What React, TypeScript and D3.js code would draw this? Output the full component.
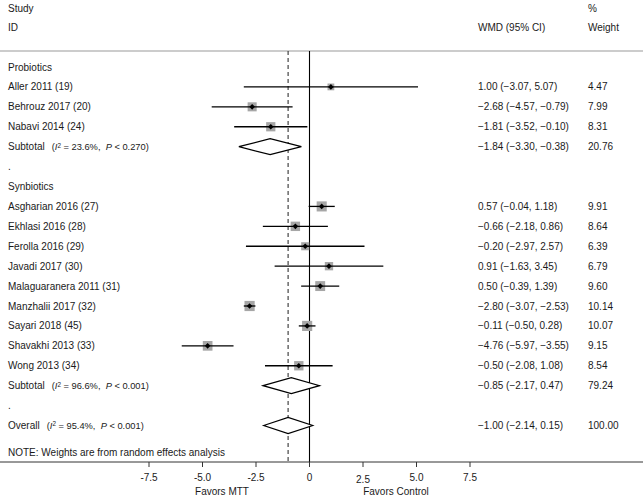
import React from "react";
import * as d3 from "d3";

const studies = ["Aller 2011 (19)", "Behrouz 2017 (20)", "Nabavi 2014 (24)", "Asgharian 2016 (27)", "Ekhlasi 2016 (28)", "Ferolla 2016 (29)", "Javadi 2017 (30)", "Malaguaranera 2011 (31)", "Manzhalii 2017 (32)", "Sayari 2018 (45)", "Shavakhi 2013 (33)", "Wong 2013 (34)"];
const groups = ["Probiotics", "Probiotics", "Probiotics", "Synbiotics", "Synbiotics", "Synbiotics", "Synbiotics", "Synbiotics", "Synbiotics", "Synbiotics", "Synbiotics", "Synbiotics"];
const est = [1.0, -2.68, -1.81, 0.57, -0.66, -0.2, 0.91, 0.5, -2.8, -0.11, -4.76, -0.5];
const lo = [-3.07, -4.57, -3.52, -0.04, -2.18, -2.97, -1.63, -0.39, -3.07, -0.5, -5.97, -2.08];
const hi = [5.07, -0.79, -0.1, 1.18, 0.86, 2.57, 3.45, 1.39, -2.53, 0.28, -3.55, 1.08];
const weights = ["4.47", "7.99", "8.31", "9.91", "8.64", "6.39", "6.79", "9.60", "10.14", "10.07", "9.15", "8.54"];
const ciText = ["1.00 (\u22123.07, 5.07)", "\u22122.68 (\u22124.57, \u22120.79)", "\u22121.81 (\u22123.52, \u22120.10)", "0.57 (\u22120.04, 1.18)", "\u22120.66 (\u22122.18, 0.86)", "\u22120.20 (\u22122.97, 2.57)", "0.91 (\u22121.63, 3.45)", "0.50 (\u22120.39, 1.39)", "\u22122.80 (\u22123.07, \u22122.53)", "\u22120.11 (\u22120.50, 0.28)", "\u22124.76 (\u22125.97, \u22123.55)", "\u22120.50 (\u22122.08, 1.08)"];

const pooledNames = ["Subtotal", "Subtotal", "Overall"];
const pooledEst = [-1.84, -0.85, -1.0];
const pooledLo = [-3.3, -2.17, -2.14];
const pooledHi = [-0.38, 0.47, 0.15];
const pooledI2 = ["23.6%", "96.6%", "95.4%"];
const pooledP = ["0.270", "0.001", "0.001"];
const pooledCiText = ["\u22121.84 (\u22123.30,\u00a0\u22120.38)", "\u22120.85 (\u22122.17, 0.47)", "\u22121.00 (\u22122.14, 0.15)"];
const pooledWeight = ["20.76", "79.24", "100.00"];

const ticks = [-7.5, -5.0, -2.5, 0, 2.5, 5.0, 7.5];
const tickLabels = ["-7.5", "-5.0", "-2.5", "0", "2.5", "5.0", "7.5"];

type Row =
  | { kind: "header"; label: string }
  | { kind: "study"; i: number }
  | { kind: "pooled"; i: number }
  | { kind: "blank" };

function buildRows(): Row[] {
  const rows: Row[] = [];
  const gs = ["Probiotics", "Synbiotics"];
  gs.forEach((g, gi) => {
    rows.push({ kind: "header", label: g });
    studies.forEach((_, i) => {
      if (groups[i] === g) rows.push({ kind: "study", i });
    });
    rows.push({ kind: "pooled", i: gi });
    rows.push({ kind: "blank" });
  });
  rows.push({ kind: "pooled", i: 2 });
  return rows;
}

export default function App() {
  const W = 643;
  const H = 498;
  const rows = buildRows();
  const x = d3.scaleLinear().domain([-7.5, 7.5]).range([149, 470]);
  const y = d3.scaleLinear().domain([0, rows.length - 1]).range([67, 425.5]);
  const font = "'Liberation Sans', Arial, Helvetica, sans-serif";
  const fs = 10;
  const afs = 9.3;
  const txt = "#1a1a1a";
  const colLeft = 8;
  const colCI = 478;
  const colW = 588;
  const topLine = 51;
  const axisY = 462;
  const boxK = 3.2;
  const diamondH = 8;

  return (
    <svg
      width={W}
      height={H}
      style={{ position: "absolute", left: 0, top: 0, background: "#fff" }}
      fontFamily={font}
      fontSize={fs}
    >
      <rect x={0} y={0} width={W} height={H} fill="#fff" />
      <text x={colLeft} y={8} dy="0.35em" fill={txt}>Study</text>
      <text x={colLeft} y={27} dy="0.35em" fill={txt}>ID</text>
      <text x={colW} y={8} dy="0.35em" fill={txt}>%</text>
      <text x={colCI} y={27} dy="0.35em" fill={txt}>WMD (95% CI)</text>
      <text x={colW} y={27} dy="0.35em" fill={txt}>Weight</text>
      <line x1={0} x2={W} y1={topLine} y2={topLine} stroke="#999" strokeWidth={1} />

      <line x1={x(0)} x2={x(0)} y1={topLine} y2={axisY} stroke="#000" strokeWidth={1.1} />
      <line x1={x(pooledEst[2])} x2={x(pooledEst[2])} y1={topLine} y2={axisY} stroke="#333" strokeWidth={1.1} strokeDasharray="4,3" />

      {rows.map((r, k) => {
        const yy = y(k);
        if (r.kind === "header") {
          return (
            <text key={k} x={colLeft} y={yy} dy="0.35em" fill={txt}>{r.label}</text>
          );
        }
        if (r.kind === "blank") {
          return (
            <text key={k} x={colLeft} y={yy} dy="0.35em" fill={txt}>.</text>
          );
        }
        if (r.kind === "study") {
          const i = r.i;
          const s = boxK * Math.sqrt(+weights[i]);
          const cx = x(est[i]);
          const d = 2.8;
          return (
            <g key={k}>
              <text x={colLeft} y={yy} dy="0.35em" fill={txt}>{studies[i]}</text>
              <rect x={cx - s / 2} y={yy - s / 2} width={s} height={s} fill="#a6a6a6" />
              <line x1={x(lo[i])} x2={x(hi[i])} y1={yy} y2={yy} stroke="#000" strokeWidth={1.3} />
              <path d={`M${cx - d},${yy}L${cx},${yy - d}L${cx + d},${yy}L${cx},${yy + d}Z`} fill="#000" />
              <text x={colCI} y={yy} dy="0.35em" fill={txt}>{ciText[i]}</text>
              <text x={colW} y={yy} dy="0.35em" fill={txt}>{weights[i]}</text>
            </g>
          );
        }
        const i = r.i;
        const path = `M${x(pooledLo[i])},${yy}L${x(pooledEst[i])},${yy - diamondH}L${x(pooledHi[i])},${yy}L${x(pooledEst[i])},${yy + diamondH}Z`;
        return (
          <g key={k}>
            <text x={colLeft} y={yy} dy="0.35em" fill={txt}>
              {pooledNames[i]}
              <tspan dx={7} fontSize={afs}>(</tspan>
              <tspan fontSize={afs} fontStyle="italic">I</tspan>
              <tspan fontSize={afs - 3} dy="-0.4em">2</tspan>
              <tspan fontSize={afs} dy="0.3em">{` = ${pooledI2[i]},\u00a0\u00a0`}</tspan>
              <tspan fontSize={afs} fontStyle="italic">P</tspan>
              <tspan fontSize={afs}>{` < ${pooledP[i]})`}</tspan>
            </text>
            <path d={path} fill="#fff" stroke="#000" strokeWidth={1.2} />
            <text x={colCI} y={yy} dy="0.35em" fill={txt}>{pooledCiText[i]}</text>
            <text x={colW} y={yy} dy="0.35em" fill={txt}>{pooledWeight[i]}</text>
          </g>
        );
      })}

      <text x={colLeft} y={452} dy="0.35em" fill={txt}>NOTE: Weights are from random effects analysis</text>

      <line x1={0} x2={W} y1={axisY} y2={axisY} stroke="#333" strokeWidth={1} />
      {ticks.map((t, i) => (
        <g key={i}>
          <line x1={x(t)} x2={x(t)} y1={axisY} y2={axisY + 5} stroke="#333" strokeWidth={1} />
          <text x={x(t)} y={t === 2.5 ? 479 : 477} dy="0.35em" textAnchor="middle" fill={txt}>{tickLabels[i]}</text>
        </g>
      ))}
      <text x={222} y={491} dy="0.35em" textAnchor="middle" fill={txt}>Favors MTT</text>
      <text x={396} y={491} dy="0.35em" textAnchor="middle" fill={txt}>Favors Control</text>
    </svg>
  );
}
